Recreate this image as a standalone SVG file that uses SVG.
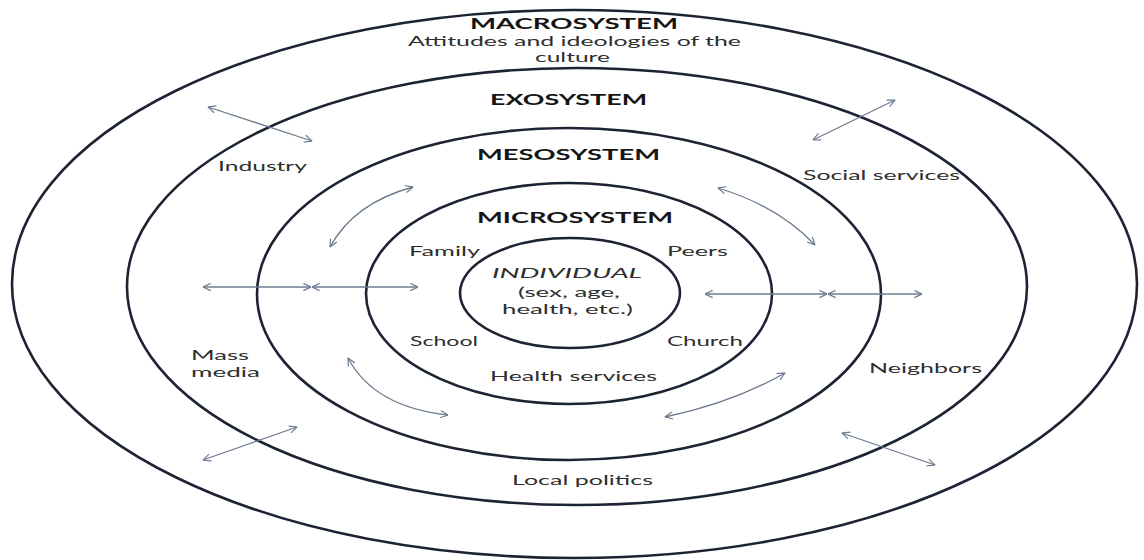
<svg xmlns="http://www.w3.org/2000/svg" width="1144" height="560" viewBox="0 0 1144 560">
  <style>
    .ring { fill: none; stroke: #1c2333; stroke-width: 2.6; }
    .link { fill: none; stroke: #6d7b90; stroke-width: 1.3; marker-start: url(#chev); marker-end: url(#chev); }
    .head { font-family: Lato, "Open Sans", "Liberation Sans", sans-serif; font-weight: 700; font-size: 16px; fill: #151515; text-anchor: start; }
    .lbl { font-family: Lato, "Open Sans", "Liberation Sans", sans-serif; font-size: 14px; fill: #2e2e2e; text-anchor: start; }
    .ital { font-style: italic; }
  </style>
  <defs>
    <marker id="chev" viewBox="0 0 10 10" refX="9.5" refY="5" markerWidth="9" markerHeight="9" markerUnits="userSpaceOnUse" orient="auto-start-reverse">
      <path d="M1,1 L9.5,5 L1,9" fill="none" stroke="#6d7b90" stroke-width="1.3"/>
    </marker>
  </defs>
  <rect width="1144" height="560" fill="#ffffff"/>

  <!-- concentric system rings -->
  <g id="macrosystem">
    <ellipse class="ring" cx="574.5" cy="284" rx="562.5" ry="274"/>
    <text class="head" x="470" y="29" textLength="208" lengthAdjust="spacingAndGlyphs">MACROSYSTEM</text>
    <text class="lbl" x="408" y="46" textLength="333" lengthAdjust="spacingAndGlyphs">Attitudes and ideologies of the</text>
    <text class="lbl" x="535" y="62" textLength="75" lengthAdjust="spacingAndGlyphs">culture</text>
  </g>
  <g id="exosystem">
    <ellipse class="ring" cx="577" cy="286.5" rx="450" ry="218.5"/>
    <text class="head" x="490" y="105" textLength="157" lengthAdjust="spacingAndGlyphs">EXOSYSTEM</text>
    <text class="lbl" x="218" y="171" textLength="89" lengthAdjust="spacingAndGlyphs">Industry</text>
    <text class="lbl" x="803" y="180" textLength="157" lengthAdjust="spacingAndGlyphs">Social services</text>
    <text class="lbl" x="191" y="360" textLength="58" lengthAdjust="spacingAndGlyphs">Mass</text>
    <text class="lbl" x="191" y="377" textLength="69" lengthAdjust="spacingAndGlyphs">media</text>
    <text class="lbl" x="869" y="373" textLength="113" lengthAdjust="spacingAndGlyphs">Neighbors</text>
    <text class="lbl" x="512" y="485" textLength="141" lengthAdjust="spacingAndGlyphs">Local politics</text>
  </g>
  <g id="mesosystem">
    <ellipse class="ring" cx="569" cy="294" rx="312" ry="166"/>
    <text class="head" x="477" y="160" textLength="183" lengthAdjust="spacingAndGlyphs">MESOSYSTEM</text>
  </g>
  <g id="microsystem">
    <ellipse class="ring" cx="569" cy="293.5" rx="203" ry="110.5"/>
    <text class="head" x="477" y="223" textLength="196" lengthAdjust="spacingAndGlyphs">MICROSYSTEM</text>
    <text class="lbl" x="409" y="256" textLength="71" lengthAdjust="spacingAndGlyphs">Family</text>
    <text class="lbl" x="667" y="256" textLength="61" lengthAdjust="spacingAndGlyphs">Peers</text>
    <text class="lbl" x="410" y="346" textLength="68" lengthAdjust="spacingAndGlyphs">School</text>
    <text class="lbl" x="667" y="346" textLength="76" lengthAdjust="spacingAndGlyphs">Church</text>
    <text class="lbl" x="490" y="381" textLength="167" lengthAdjust="spacingAndGlyphs">Health services</text>
  </g>
  <g id="individual">
    <ellipse class="ring" cx="570" cy="293" rx="110" ry="55"/>
    <text class="lbl ital" x="492" y="278" textLength="150" lengthAdjust="spacingAndGlyphs">INDIVIDUAL</text>
    <text class="lbl" x="518" y="297" textLength="102" lengthAdjust="spacingAndGlyphs">(sex, age,</text>
    <text class="lbl" x="502" y="314" textLength="131" lengthAdjust="spacingAndGlyphs">health, etc.)</text>
  </g>

  <!-- two-way influence arrows between rings -->
  <g id="connectors">
    <path class="link" d="M208,107 L312,141"/>
    <path class="link" d="M813,140 L895,100"/>
    <path class="link" d="M330,247 Q354,203 413,187"/>
    <path class="link" d="M718,188 Q778,206 815,245"/>
    <path class="link" d="M203,287 L311,287"/>
    <path class="link" d="M312,287 L418,287"/>
    <path class="link" d="M705,294 L827,294"/>
    <path class="link" d="M828,294 L922,294"/>
    <path class="link" d="M348,358 Q374,407 448,415"/>
    <path class="link" d="M785,373 Q732,403 665,417"/>
    <path class="link" d="M203,460 L297,427"/>
    <path class="link" d="M842,433 L935,465"/>
  </g>
</svg>
